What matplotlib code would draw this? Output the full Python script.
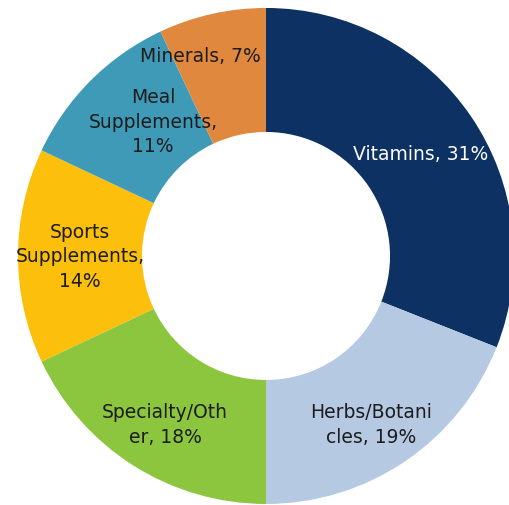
import numpy as np
import matplotlib
matplotlib.use("Agg")
import matplotlib.pyplot as plt

# slices, clockwise from 12 o'clock
labels = ["Vitamins, 31%", "Herbs/Botani\ncles, 19%", "Specialty/Oth\ner, 18%",
          "Sports\nSupplements,\n14%", "Meal\nSupplements,\n11%", "Minerals, 7%"]
shares = [31, 19, 18, 14, 11, 7]
colors = ["#0c3162", "#b5c9e3", "#8cc63f", "#fcbf0c", "#3f9ab7", "#df883e"]
text_colors = ["white", "#1c1c1c", "#1c1c1c", "#1c1c1c", "#1c1c1c", "#1c1c1c"]

# label placement (fraction of outer radius, angle nudge in degrees)
label_r = [0.75, 0.80, 0.79, 0.75, 0.71, 0.85]
label_da = [-0.7, -2.2, 1.4, 0, -5, 5.4]

fig = plt.figure(figsize=(5.09, 5.06), dpi=100)
ax = fig.add_axes([0, 0, 1, 1])
wedges, _ = ax.pie(shares, colors=colors, startangle=90, counterclock=False,
                   radius=1.0, wedgeprops=dict(width=0.5, linewidth=0))

for w, lab, tc, r, da in zip(wedges, labels, text_colors, label_r, label_da):
    mid = np.deg2rad((w.theta1 + w.theta2) / 2 + da)
    ax.text(r * np.cos(mid), r * np.sin(mid), lab, ha="center", va="center",
            color=tc, fontsize=13.5, linespacing=1.38)

ax.set_xlim(-1.0726, 0.9798)
ax.set_ylim(-1.004, 1.036)
ax.set_aspect("equal")
ax.axis("off")

fig.savefig("out.png", dpi=100)
